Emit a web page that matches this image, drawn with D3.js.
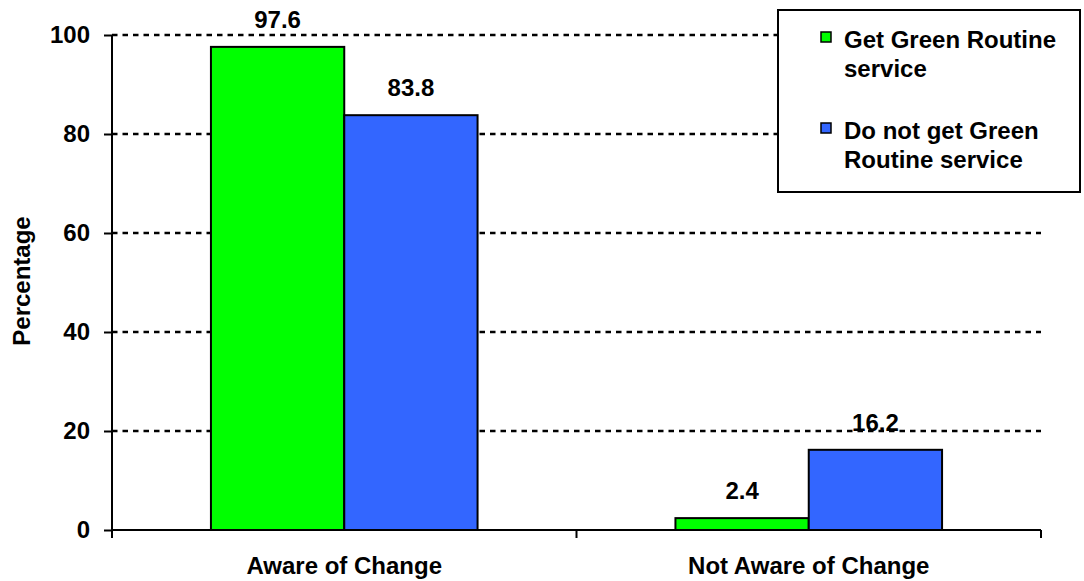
<!DOCTYPE html>
<html lang="en">
<head>
<meta charset="UTF-8">
<title>Awareness of change</title>
<style>
  body { margin: 0; background: #fff; }
  text { font-family: "Liberation Sans", Arial, sans-serif; font-weight: bold; fill: #000; }
</style>
</head>
<body>
<svg id="chart" width="1084" height="581"></svg>
<script src="https://d3js.org/d3.v7.min.js"></script>
<script>

    var categories = ["Aware of Change", "Not Aware of Change"];
    var series = ["Get Green Routine service", "Do not get Green Routine service"];
    var greenValues = [97.6, 2.4];   // Get Green Routine service
    var blueValues = [83.8, 16.2];   // Do not get Green Routine service
    var yTicks = [0, 20, 40, 60, 80, 100];
    var legendLines = [["Get Green Routine", "service"], ["Do not get Green", "Routine service"]];
    var colors = ["#00ff00", "#3366ff"];

    var svg = d3.select("#chart"),
        plotLeft = 112, plotRight = 1041, plotTop = 35, plotBottom = 530,
        fontSize = 24;

    var x0 = d3.scaleBand()
        .domain(categories)
        .range([plotLeft, plotRight])
        .paddingInner(0.426)
        .paddingOuter(0.213);

    var x1 = d3.scaleBand()
        .domain([0, 1])
        .range([0, x0.bandwidth()]);

    var y = d3.scaleLinear()
        .domain([0, 100])
        .range([plotBottom, plotTop]);

    // dashed grid lines
    svg.append("g")
        .selectAll("line")
        .data(yTicks.filter(function (d) { return d > 0; }))
        .join("line")
        .attr("x1", plotLeft).attr("x2", plotRight)
        .attr("y1", function (d) { return Math.round(y(d)); })
        .attr("y2", function (d) { return Math.round(y(d)); })
        .attr("stroke", "#000")
        .attr("stroke-width", 2.5)
        .attr("stroke-dasharray", "5.5,5");

    // bars
    var rows = categories.map(function (c, i) {
        return [greenValues[i], blueValues[i]].map(function (v, j) {
            return { cat: c, s: j, v: v };
        });
    });

    var groups = svg.append("g")
        .selectAll("g")
        .data(rows)
        .join("g")
        .attr("transform", function (d, i) { return "translate(" + x0(categories[i]) + ",0)"; });

    groups.selectAll("rect")
        .data(function (d) { return d; })
        .join("rect")
        .attr("x", function (d) { return x1(d.s); })
        .attr("y", function (d) { return y(d.v); })
        .attr("width", x1.bandwidth())
        .attr("height", function (d) { return y(0) - y(d.v); })
        .attr("fill", function (d) { return colors[d.s]; })
        .attr("stroke", "#000")
        .attr("stroke-width", 2);

    groups.selectAll("text")
        .data(function (d) { return d; })
        .join("text")
        .attr("x", function (d) { return x1(d.s) + x1.bandwidth() / 2; })
        .attr("y", function (d) { return y(d.v) - 19; })
        .attr("text-anchor", "middle")
        .style("font-size", fontSize + "px")
        .text(function (d) { return d.v.toFixed(1); });

    // y axis
    var yAxis = svg.append("g")
        .attr("transform", "translate(" + plotLeft + ",0)")
        .call(d3.axisLeft(y).tickValues(yTicks).tickSize(8).tickPadding(14));
    yAxis.select(".domain").attr("stroke-width", 2).attr("d", "M0," + plotTop + "V" + plotBottom);
    yAxis.selectAll(".tick line").attr("stroke-width", 2);
    yAxis.selectAll(".tick text")
        .style("font-size", fontSize + "px")
        .style("font-family", "'Liberation Sans', Arial, sans-serif")
        .style("font-weight", "bold");

    // x axis (ticks at category boundaries)
    var xAxisG = svg.append("g");
    xAxisG.append("line")
        .attr("x1", plotLeft).attr("x2", plotRight)
        .attr("y1", plotBottom).attr("y2", plotBottom)
        .attr("stroke", "#000").attr("stroke-width", 2);
    var step = x0.step();
    var bounds = [plotLeft, plotLeft + step, plotLeft + 2 * step];
    xAxisG.selectAll(".xt")
        .data(bounds)
        .join("line")
        .attr("x1", function (d) { return d; }).attr("x2", function (d) { return d; })
        .attr("y1", plotBottom).attr("y2", plotBottom + 8)
        .attr("stroke", "#000").attr("stroke-width", 2);
    xAxisG.selectAll("text")
        .data(categories)
        .join("text")
        .attr("x", function (d) { return x0(d) + x0.bandwidth() / 2; })
        .attr("y", 574)
        .attr("text-anchor", "middle")
        .style("font-size", fontSize + "px")
        .text(function (d) { return d; });

    // axis title
    svg.append("text")
        .attr("transform", "translate(30,281) rotate(-90)")
        .attr("text-anchor", "middle")
        .style("font-size", fontSize + "px")
        .text("Percentage");

    // legend
    var legend = svg.append("g");
    legend.append("rect")
        .attr("x", 778).attr("y", 10)
        .attr("width", 302).attr("height", 182)
        .attr("fill", "#fff")
        .attr("stroke", "#000").attr("stroke-width", 2);

    var items = legend.selectAll(".item")
        .data(series)
        .join("g")
        .attr("transform", function (d, i) { return "translate(821," + (32 + i * 91) + ")"; });
    items.append("rect")
        .attr("width", 10).attr("height", 10)
        .attr("fill", function (d, i) { return colors[i]; })
        .attr("stroke", "#000").attr("stroke-width", 1.5);
    items.append("text")
        .style("font-size", fontSize + "px")
        .selectAll("tspan")
        .data(function (d, i) { return legendLines[i]; })
        .join("tspan")
        .attr("x", 23)
        .attr("y", function (d, k) { return 16 + k * 29; })
        .text(function (d) { return d; });

</script>
</body>
</html>
